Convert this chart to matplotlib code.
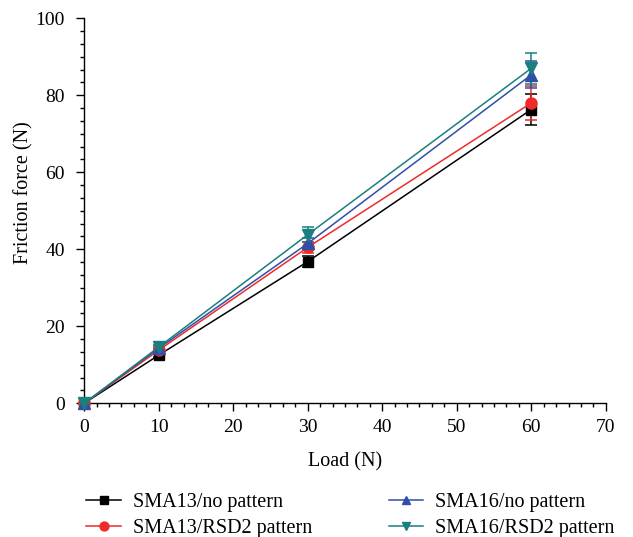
import matplotlib
matplotlib.use("Agg")
import matplotlib.pyplot as plt
from matplotlib.ticker import MultipleLocator, AutoMinorLocator
from matplotlib.lines import Line2D

plt.rcParams['font.family'] = ['Liberation Serif', 'DejaVu Serif']

load = [0, 10, 30, 60]
labels = ["SMA13/no pattern", "SMA13/RSD2 pattern", "SMA16/no pattern", "SMA16/RSD2 pattern"]
sma13_no = [0, 12.5, 36.8, 76.3]
sma13_no_err = [0, 0.5, 1.5, 4.0]
sma13_rsd2 = [0, 13.8, 40.5, 78.0]
sma13_rsd2_err = [0, 0.5, 1.5, 4.5]
sma16_no = [0, 14.3, 41.5, 85.3]
sma16_no_err = [0, 0.5, 1.5, 3.5]
sma16_rsd2 = [0, 14.6, 43.8, 87.0]
sma16_rsd2_err = [0, 0.5, 2.0, 4.0]

series = [
    (sma13_no, sma13_no_err, "black", "s", 7),
    (sma13_rsd2, sma13_rsd2_err, "#ee2a2a", "o", 8),
    (sma16_no, sma16_no_err, "#2f4fa8", "^", 8),
    (sma16_rsd2, sma16_rsd2_err, "#1a7f7f", "v", 8),
]

fig = plt.figure(figsize=(6.33, 5.37), dpi=100)
ax = fig.add_axes([0.133, 0.249, 0.824, 0.717])

handles = []
for (vals, err, col, mk, ms), lab in zip(series, labels):
    ax.errorbar(load, vals, yerr=err, color=col, marker=mk, markersize=ms,
                linewidth=1.1, elinewidth=1.1, capsize=4, capthick=1.1,
                clip_on=False, zorder=3)
    handles.append(Line2D([], [], color=col, marker=mk, markersize=ms * 0.8,
                          linewidth=1.1))

ax.set_xlim(0, 70)
ax.set_ylim(0, 100)
ax.xaxis.set_major_locator(MultipleLocator(10))
ax.yaxis.set_major_locator(MultipleLocator(20))
ax.xaxis.set_minor_locator(AutoMinorLocator(6))
ax.yaxis.set_minor_locator(AutoMinorLocator(6))
for s in ['top', 'right']:
    ax.spines[s].set_visible(False)
for s in ['left', 'bottom']:
    ax.spines[s].set_linewidth(1.0)
ax.tick_params(which='major', direction='out', length=6, width=1, labelsize=14)
ax.tick_params(axis='y', which='major', pad=8)
ax.tick_params(axis='x', which='major', pad=5)
ax.tick_params(which='minor', direction='out', length=3, width=1)
ax.set_xlabel("Load (N)", fontsize=14.5)
ax.set_ylabel("Friction force (N)", fontsize=14.5)
ax.xaxis.set_label_coords(0.5, -0.127)
ax.yaxis.set_label_coords(-0.098, 0.548)

fig.legend(handles=handles, labels=labels, loc='lower left',
           bbox_to_anchor=(0.108, -0.035), ncol=2, frameon=False, fontsize=14.5,
           handlelength=1.7, handletextpad=0.6, columnspacing=3.8,
           labelspacing=0.32)
fig.savefig("out.png", dpi=100)
